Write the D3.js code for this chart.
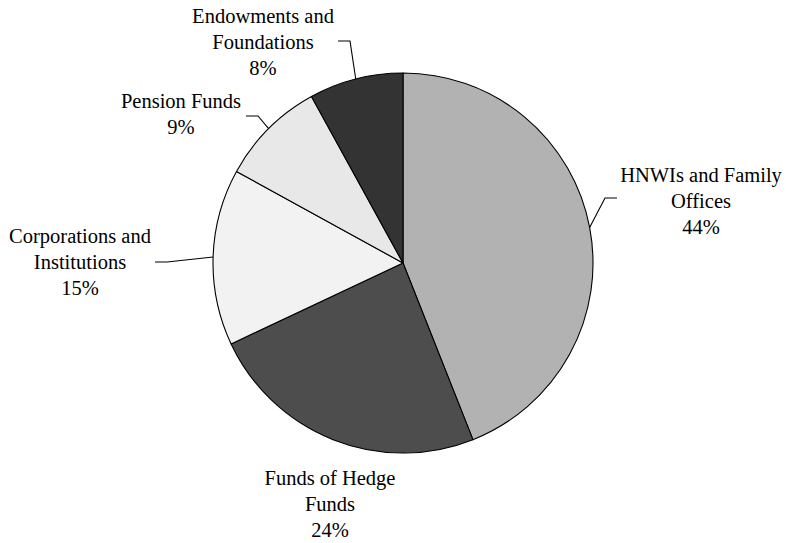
<!DOCTYPE html>
<html>
<head>
<meta charset="utf-8">
<script src="https://cdn.jsdelivr.net/npm/d3@7"></script>
<style>
  html, body { margin: 0; padding: 0; background: #fff; }
  svg { display: block; }
</style>
</head>
<body>
<svg id="chart" width="786" height="543"></svg>
<script>
// Data
const categories = ["HNWIs and Family Offices", "Funds of Hedge Funds", "Corporations and Institutions", "Pension Funds", "Endowments and Foundations"];
const labelLines = [["HNWIs and Family", "Offices"], ["Funds of Hedge", "Funds"], ["Corporations and", "Institutions"], ["Pension Funds"], ["Endowments and", "Foundations"]];
const values = [44, 24, 15, 9, 8];
const colors = ["#b2b2b2", "#4d4d4d", "#f2f2f2", "#e8e8e8", "#333333"];

// Layout (label centre x, first baseline y, leader elbow and end relative to pie centre)
const layout = {
  cx: 403, cy: 263, r: 190, lineH: 25.8,
  labels: [
    { x: 701, y: 182, elbow: [202, -65], end: [214, -65] },
    { x: 330, y: 485, elbow: null, end: null },
    { x: 80,  y: 243, elbow: [-236, -1], end: [-248, -1] },
    { x: 181, y: 108, elbow: [-145, -147], end: [-157, -147] },
    { x: 263, y: 23,  elbow: [-53, -222], end: [-65, -222] }
  ]
};

const FONT = "'Liberation Serif', 'Times New Roman', Times, serif";

const svg = d3.select("#chart");
const g = svg.append("g").attr("transform", `translate(${layout.cx},${layout.cy})`);

const pie = d3.pie().sort(null).value(d => d)(values);
const arc = d3.arc().innerRadius(0).outerRadius(layout.r);
const edgeArc = d3.arc().innerRadius(layout.r).outerRadius(layout.r);

g.selectAll("path.slice")
  .data(pie)
  .join("path")
  .attr("class", "slice")
  .attr("d", arc)
  .attr("fill", (d, i) => colors[i])
  .attr("stroke", "#000")
  .attr("stroke-width", 1.1)
  .attr("stroke-linejoin", "round");

// Leader lines
pie.forEach((d, i) => {
  const L = layout.labels[i];
  if (!L.elbow) return;
  const p = edgeArc.centroid(d);
  g.append("polyline")
    .attr("points", [p, L.elbow, L.end].map(q => q.join(",")).join(" "))
    .attr("fill", "none")
    .attr("stroke", "#000")
    .attr("stroke-width", 1.1);
});

// Labels
pie.forEach((d, i) => {
  const L = layout.labels[i];
  const lines = labelLines[i].concat([values[i] + "%"]);
  const t = svg.append("text")
    .attr("text-anchor", "middle")
    .attr("font-family", FONT)
    .attr("font-size", "20.5px")
    .attr("fill", "#000")
    .style("font-family", FONT);
  lines.forEach((s, k) => {
    t.append("tspan").attr("x", L.x).attr("y", L.y + k * layout.lineH).text(s);
  });
});
</script>
</body>
</html>
